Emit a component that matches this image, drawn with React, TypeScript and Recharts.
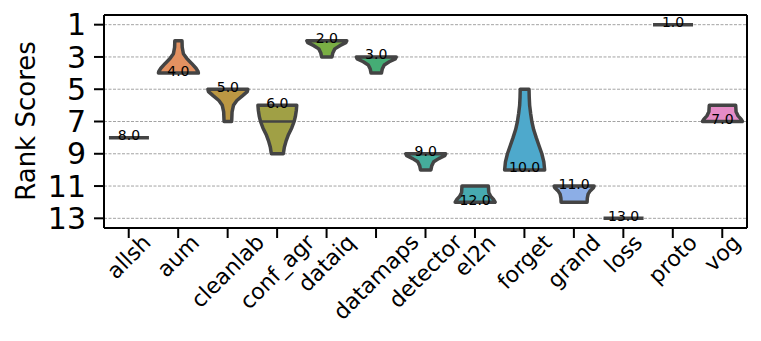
import React from "react";
import { ComposedChart, Bar, XAxis, YAxis, CartesianGrid } from "recharts";

// methods along the x axis
const methods = ["allsh", "aum", "cleanlab", "conf_agr", "dataiq", "datamaps", "detector", "el2n", "forget", "grand", "loss", "proto", "vog"];

// range of rank scores per method
const rankMin = [8, 2, 5, 6, 2, 3, 9, 11, 5, 11, 13, 1, 6];
const rankMax = [8, 4, 7, 9, 3, 4, 10, 12, 10, 12, 13, 1, 7];
// average rank annotated on each violin
const avgRank = [8, 4, 5, 6, 2, 3, 9, 12, 10, 11, 13, 1, 7];
// quartile line drawn inside a violin (only conf_agr has one)
const innerLine: (number | null)[] = [null, null, null, 7, null, null, null, null, null, null, null, null, null];

const rankTicks = [1, 3, 5, 7, 9, 11, 13];

// relative density (0..1) at a given rank
const densAllsh = [[8, 1]];
const densAum = [[2, 0.18], [2.4, 0.19], [2.8, 0.25], [3.1, 0.42], [3.4, 0.66], [3.7, 0.88], [3.9, 0.98], [4, 1]];
const densCleanlab = [[5, 1], [5.15, 0.97], [5.4, 0.74], [5.7, 0.45], [6, 0.28], [6.4, 0.21], [7, 0.19]];
const densConfAgr = [[6, 0.97], [6.3, 0.95], [6.7, 0.9], [7, 0.84], [7.4, 0.72], [7.8, 0.56], [8.2, 0.44], [8.6, 0.35], [9, 0.3]];
const densDataiq = [[2, 1], [2.12, 0.95], [2.3, 0.65], [2.5, 0.4], [2.75, 0.3], [3, 0.26]];
const densDatamaps = [[3, 1], [3.12, 0.95], [3.3, 0.65], [3.5, 0.4], [3.75, 0.3], [4, 0.26]];
const densDetector = [[9, 1], [9.12, 0.95], [9.3, 0.65], [9.5, 0.4], [9.75, 0.3], [10, 0.26]];
const densEl2n = [[11, 0.66], [11.4, 0.68], [11.65, 0.78], [11.85, 0.93], [12, 1]];
const densForget = [[5, 0.22], [5.5, 0.23], [6, 0.25], [6.5, 0.3], [7, 0.36], [7.5, 0.45], [8, 0.58], [8.5, 0.72], [9, 0.86], [9.5, 0.96], [10, 1]];
const densGrand = [[11, 1], [11.1, 0.97], [11.3, 0.8], [11.5, 0.7], [11.75, 0.66], [12, 0.65]];
const densLoss = [[13, 1]];
const densProto = [[1, 1]];
const densVog = [[6, 0.66], [6.4, 0.68], [6.65, 0.78], [6.85, 0.93], [7, 1]];

const densities = [densAllsh, densAum, densCleanlab, densConfAgr, densDataiq, densDatamaps, densDetector, densEl2n, densForget, densGrand, densLoss, densProto, densVog];

const colors = ["#e8878f", "#e39161", "#bb9743", "#a0a045", "#7aae44", "#45ad75", "#45ad9b", "#47aab0", "#4ea9cc", "#8caee6", "#a99be0", "#c896e0", "#e58cc6"];

const data = methods.map((name, i) => ({
  name,
  range: [rankMin[i], rankMax[i]],
  avg: avgRank[i],
  inner: innerLine[i],
  density: densities[i],
  color: colors[i],
}));

const FONT = "DejaVu Sans";
const EDGE = "#444";

let ctx: CanvasRenderingContext2D | null = null;
const measure = (s: string, size: number) => {
  if (!ctx) ctx = document.createElement("canvas").getContext("2d");
  if (!ctx) return s.length * size * 0.6;
  ctx.font = `${size}px "${FONT}"`;
  return ctx.measureText(s).width;
};

const densityAt = (dens: number[][], r: number) => {
  for (let k = 0; k < dens.length - 1; k++) {
    const [r0, d0] = dens[k];
    const [r1, d1] = dens[k + 1];
    if (r >= r0 && r <= r1) return d0 + ((d1 - d0) * (r - r0)) / (r1 - r0);
  }
  return dens[dens.length - 1][1];
};

const Violin = (props: any) => {
  const { x, y, width, height } = props;
  const p = props.payload ?? props;
  const [lo, hi] = p.range;
  const top = Math.min(y, y + height);
  const bot = Math.max(y, y + height);
  const pix = (r: number) => (hi === lo ? top : top + ((r - lo) / (hi - lo)) * (bot - top));
  const cx = x + width / 2;
  const hw = width / 2;
  const dens: number[][] = p.density;

  let shape;
  if (hi === lo) {
    shape = <line x1={cx - hw} x2={cx + hw} y1={top} y2={top} stroke={EDGE} strokeWidth={3.5} />;
  } else {
    const right = dens.map(([r, d]) => `${cx + d * hw},${pix(r)}`);
    const left = [...dens].reverse().map(([r, d]) => `${cx - d * hw},${pix(r)}`);
    shape = (
      <polygon
        points={[...right, ...left].join(" ")}
        fill={p.color}
        stroke={EDGE}
        strokeWidth={3.5}
        strokeLinejoin="round"
      />
    );
  }
  let inner = null;
  if (p.inner != null) {
    const w = densityAt(dens, p.inner) * hw;
    inner = <line x1={cx - w} x2={cx + w} y1={pix(p.inner)} y2={pix(p.inner)} stroke={EDGE} strokeWidth={2.5} />;
  }
  return (
    <g>
      {shape}
      {inner}
      <text x={cx} y={pix(p.avg) - 2.5} textAnchor="middle" dominantBaseline="central" fontSize={14} fontFamily={FONT} fill="#000">
        {p.avg.toFixed(1)}
      </text>
    </g>
  );
};

const XTick = (props: any) => {
  const { x, y, payload } = props;
  const fs = 22;
  const L = measure(payload.value, fs);
  const topY = y - 7;
  const cy = topY + (L * 0.97 + 0.8 * fs) / (2 * Math.SQRT2);
  return (
    <text
      x={x}
      y={cy}
      textAnchor="middle"
      dominantBaseline="central"
      fontSize={fs}
      fontFamily={FONT}
      fill="#000"
      transform={`rotate(-45, ${x}, ${cy})`}
    >
      {payload.value}
    </text>
  );
};

const YLabel = () => (
  <text x={18} y={113} textAnchor="middle" dominantBaseline="central" fontSize={26} fontFamily={FONT} fill="#000" transform="rotate(-90, 18, 113)">
    Rank Scores
  </text>
);

export default function App() {
  return (
    <ComposedChart
      width={745}
      height={325}
      data={data}
      margin={{ top: 6, right: 5, left: 0, bottom: 5 }}
      barCategoryGap="10%"
    >
      <CartesianGrid vertical={false} stroke="#999" strokeDasharray="3 1.5" strokeWidth={0.9} />
      <XAxis
        dataKey="name"
        interval={0}
        height={100}
        tickSize={10}
        tickMargin={2}
        axisLine={{ stroke: "#000", strokeWidth: 2 }}
        tickLine={{ stroke: "#000", strokeWidth: 2 }}
        tick={<XTick />}
      />
      <XAxis xAxisId="top" orientation="top" dataKey="name" height={1} tick={false} tickLine={false} axisLine={{ stroke: "#000", strokeWidth: 2 }} />
      <YAxis
        type="number"
        domain={[0.4, 13.6]}
        reversed
        ticks={rankTicks}
        interval={0}
        width={96}
        tickSize={10}
        tickMargin={8}
        allowDataOverflow
        axisLine={{ stroke: "#000", strokeWidth: 2 }}
        tickLine={{ stroke: "#000", strokeWidth: 2 }}
        tick={{ fontSize: 30, fontFamily: FONT, fill: "#000" }}
        label={<YLabel />}
      />
      <YAxis yAxisId="right" orientation="right" type="number" domain={[0, 1]} width={1} tick={false} tickLine={false} axisLine={{ stroke: "#000", strokeWidth: 2 }} />
      <Bar dataKey="range" shape={<Violin />} isAnimationActive={false} />
    </ComposedChart>
  );
}
